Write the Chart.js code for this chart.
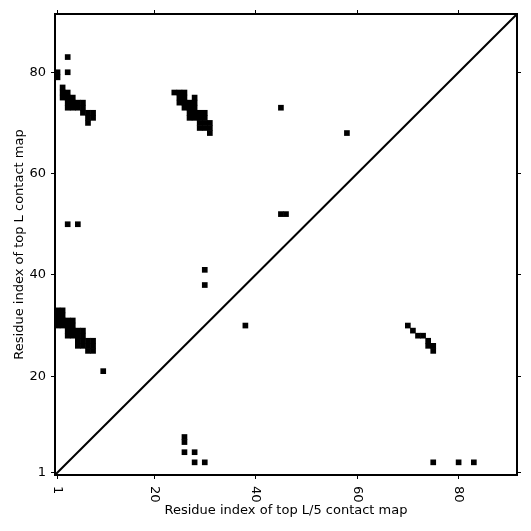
<!DOCTYPE html>
<html>
<head>
<meta charset="utf-8">
<script src="https://cdn.jsdelivr.net/npm/chart.js@4"></script>
<style>
  html, body { margin: 0; padding: 0; background: #fff; }
</style>
</head>
<body>
<canvas id="contactMap" width="531" height="531"></canvas>
<script>
// ========== DATA ==========
const seqLength = 91;
const tickValues = [1, 20, 40, 60, 80];

// top L contacts (upper-left triangle, x < y)
const topLX = [
  3, 3, 1, 1,
  2, 2, 3, 2, 3, 4,
  3, 4, 5, 6, 3, 4, 5, 6,
  6, 7, 8, 7, 8, 7,
  24, 25, 26, 25, 26, 28, 25, 26, 27, 28, 26, 27, 28,
  27, 28, 29, 30, 27, 28, 29, 30, 29, 30, 31, 29, 30, 31, 31,
  45, 58, 45, 46, 3, 5, 30, 30,
  1, 2, 1, 2, 1, 2, 1, 2,
  3, 4, 3, 4, 3, 4, 3, 4,
  5, 6, 5, 6, 5, 6, 5, 6,
  7, 8, 7, 8, 7, 8,
  10
];
const topLY = [
  83, 80, 79, 80,
  77, 76, 76, 75, 75, 75,
  74, 74, 74, 74, 73, 73, 73, 73,
  72, 72, 72, 71, 71, 70,
  76, 76, 76, 75, 75, 75, 74, 74, 74, 74, 73, 73, 73,
  72, 72, 72, 72, 71, 71, 71, 71, 70, 70, 70, 69, 69, 69, 68,
  73, 68, 52, 52, 50, 50, 41, 38,
  33, 33, 32, 32, 31, 31, 30, 30,
  31, 31, 30, 30, 29, 29, 28, 28,
  29, 29, 28, 28, 27, 27, 26, 26,
  27, 27, 26, 26, 25, 25,
  21
];

// top L/5 contacts (lower-right triangle, x > y)
const topL5X = [38, 70, 71, 72, 73, 74, 74, 75, 75, 26, 26, 26, 28, 28, 30, 75, 80, 83];
const topL5Y = [30, 30, 29, 28, 28, 27, 26, 26, 25, 8, 7, 5, 5, 3, 3, 3, 3, 3];

const toPoints = (xs, ys) => xs.map((x, i) => ({ x, y: ys[i] }));

// ========== HELPERS ==========
const FONT = '"DejaVu Sans", sans-serif';
const axisMin = 0.5;
const axisMax = seqLength + 0.5;

function setTicks(scale) {
  scale.ticks = tickValues.map(v => ({ value: v }));
}

// one contact = one residue cell (a hair wider so blocks stay solid)
function cellRadius(ctx) {
  const s = ctx.chart.scales.x;
  const w = Math.abs(s.getPixelForValue(1) - s.getPixelForValue(0));
  return (w + 0.6) / Math.SQRT2;
}

// x tick labels turned clockwise, like the reference
const rotatedXTicks = {
  id: 'rotatedXTicks',
  afterDraw(chart) {
    const { ctx, scales: { x } } = chart;
    ctx.save();
    ctx.font = '13px ' + FONT;
    ctx.fillStyle = '#000';
    ctx.textAlign = 'left';
    ctx.textBaseline = 'middle';
    tickValues.forEach(v => {
      ctx.save();
      ctx.translate(x.getPixelForValue(v), x.top + 11);
      ctx.rotate(Math.PI / 2);
      ctx.fillText(String(v), 0, 0);
      ctx.restore();
    });
    ctx.restore();
  }
};

const frameGrid = {
  drawOnChartArea: false,
  drawTicks: true,
  tickLength: 4,
  color: '#000',
  lineWidth: 1
};
const frameBorder = { display: true, color: '#000', width: 2 };

// ========== CHART ==========
new Chart(document.getElementById('contactMap'), {
  type: 'scatter',
  data: {
    datasets: [
      {
        label: 'top L',
        data: toPoints(topLX, topLY),
        pointStyle: 'rect',
        pointRadius: cellRadius,
        backgroundColor: '#000',
        borderWidth: 0
      },
      {
        label: 'top L/5',
        data: toPoints(topL5X, topL5Y),
        pointStyle: 'rect',
        pointRadius: cellRadius,
        backgroundColor: '#000',
        borderWidth: 0
      },
      {
        label: 'diagonal',
        data: [{ x: axisMin, y: axisMin }, { x: axisMax, y: axisMax }],
        showLine: true,
        borderColor: '#000',
        borderWidth: 2,
        pointRadius: 0
      }
    ]
  },
  options: {
    responsive: false,
    animation: false,
    events: [],
    layout: { padding: 0 },
    plugins: {
      legend: { display: false },
      tooltip: { enabled: false }
    },
    scales: {
      x: {
        type: 'linear',
        position: 'bottom',
        min: axisMin,
        max: axisMax,
        afterBuildTicks: setTicks,
        afterFit: s => { s.height = 56; },
        grid: frameGrid,
        border: frameBorder,
        ticks: { color: 'transparent', font: { family: FONT, size: 13 } },
        title: {
          display: true,
          text: 'Residue index of top L/5 contact map',
          color: '#000',
          font: { family: FONT, size: 13 },
          padding: { top: 0, bottom: 13 }
        }
      },
      x2: {
        type: 'linear',
        position: 'top',
        min: axisMin,
        max: axisMax,
        afterBuildTicks: setTicks,
        afterFit: s => { s.height = 14; },
        grid: frameGrid,
        border: frameBorder,
        ticks: { display: false }
      },
      y: {
        type: 'linear',
        position: 'left',
        min: axisMin,
        max: axisMax,
        afterBuildTicks: setTicks,
        afterFit: s => { s.width = 55; },
        grid: frameGrid,
        border: frameBorder,
        ticks: { color: '#000', padding: 5, font: { family: FONT, size: 13 } },
        title: {
          display: true,
          text: 'Residue index of top L contact map',
          color: '#000',
          font: { family: FONT, size: 13 },
          padding: { top: 12, bottom: 0 }
        }
      },
      y2: {
        type: 'linear',
        position: 'right',
        min: axisMin,
        max: axisMax,
        afterBuildTicks: setTicks,
        afterFit: s => { s.width = 14; },
        grid: frameGrid,
        border: frameBorder,
        ticks: { display: false }
      }
    }
  },
  plugins: [rotatedXTicks]
});
</script>
</body>
</html>
